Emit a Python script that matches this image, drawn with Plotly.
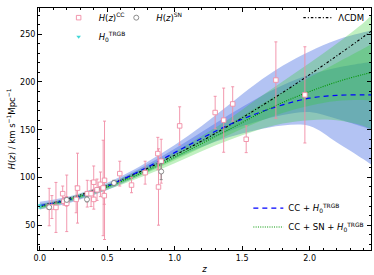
import plotly.graph_objects as go

# ---------------- data ----------------
z_cc = [0.07, 0.09, 0.12, 0.17, 0.179, 0.199, 0.20, 0.27, 0.28, 0.352, 0.3802, 0.4, 0.4004,
        0.4247, 0.4497, 0.47, 0.4783, 0.48, 0.593, 0.68, 0.781, 0.875, 0.88, 0.9, 1.037,
        1.3, 1.363, 1.43, 1.53, 1.75, 1.965]
H_cc = [69, 69, 68.6, 83, 75, 75, 72.9, 77, 88.8, 83, 83, 95, 77,
        87.1, 92.8, 89, 80.9, 97, 104, 92, 105, 125, 90, 117, 154,
        168, 160, 177, 140, 202, 186.5]
err_cc = [19.6, 12, 26.2, 8, 4, 5, 29.6, 14, 36.6, 14, 13.5, 17, 10.2,
          11.2, 12.9, 50, 9, 62, 13, 8, 12, 17, 40, 23, 20,
          17, 33.6, 18, 14, 40, 50.4]

z_sn = [0.07, 0.2, 0.35, 0.55, 0.9]
H_sn = [68.8, 76.5, 77.0, 94.2, 106.2]
err_sn = [1.6, 2.0, 2.6, 2.8, 8.5]

z_trgb = [0.0]
H_trgb = [69.8]
err_trgb = [1.9]

# reconstruction grid
z_grid = [0.0, 0.2, 0.4, 0.6, 0.8, 1.0, 1.2, 1.4, 1.6, 1.8, 2.0, 2.2, 2.4, 2.46]
H_lcdm = [70.0, 77.3, 86.4, 97.2, 109.6, 123.3, 138.1, 154.1, 171.1, 188.9, 207.7, 227.2, 247.4, 253.6]

# CC + H0 (blue)
blue_mean = [70.5, 76.0, 85.0, 97.0, 111.0, 126.0, 141.0, 155.0, 166.5, 176.0, 183.0, 186.0, 186.5, 186.5]
blue_lo2 = [66.5, 72.5, 81.5, 93.0, 106.0, 119.5, 132.0, 142.0, 149.5, 154.5, 154.0, 137.0, 119.0, 113.0]
blue_hi2 = [74.5, 79.5, 88.5, 101.0, 116.5, 134.0, 154.0, 176.0, 198.0, 217.0, 232.0, 244.0, 252.0, 254.0]
blue_lo1 = [68.5, 74.3, 83.3, 95.0, 108.5, 122.8, 136.5, 148.5, 158.0, 165.3, 168.5, 161.5, 152.8, 149.8]
blue_hi1 = [72.5, 77.8, 86.8, 99.0, 113.7, 130.0, 147.5, 165.5, 182.0, 196.5, 207.5, 215.0, 220.0, 221.0]

# CC + SN + H0 (green)
green_mean = [69.0, 76.0, 85.0, 95.5, 107.5, 121.0, 135.5, 150.0, 165.0, 178.5, 190.0, 200.0, 208.0, 210.0]
green_lo1 = [67.7, 74.8, 83.6, 93.8, 105.3, 118.0, 131.5, 144.5, 157.0, 167.5, 175.0, 180.0, 181.0, 180.0]
green_hi1 = [70.3, 77.2, 86.4, 97.2, 109.7, 124.0, 139.5, 155.5, 173.0, 189.5, 205.0, 220.0, 235.0, 240.0]
green_lo2 = [66.4, 73.6, 82.2, 92.1, 103.1, 115.0, 127.5, 139.0, 149.0, 156.5, 160.0, 160.0, 154.0, 150.0]
green_hi2 = [71.6, 78.4, 87.8, 98.9, 111.9, 127.0, 143.5, 161.0, 181.0, 200.5, 220.0, 240.0, 262.0, 270.0]

# ---------------- styles ----------------
BLUE_FILL = "rgba(65,105,225,0.40)"
GREEN_FILL = "rgba(50,205,50,0.30)"
PINK = "rgb(240,140,165)"
GREY = "rgb(128,128,128)"
CYAN = "rgb(64,215,215)"

fig = go.Figure()


def band(lo, hi, color):
    fig.add_trace(go.Scatter(x=z_grid, y=lo, mode="lines", line=dict(width=0, shape="spline"),
                             showlegend=False, hoverinfo="skip"))
    fig.add_trace(go.Scatter(x=z_grid, y=hi, mode="lines", line=dict(width=0, shape="spline"),
                             fill="tonexty", fillcolor=color, showlegend=False, hoverinfo="skip"))


band(blue_lo2, blue_hi2, BLUE_FILL)
band(blue_lo1, blue_hi1, BLUE_FILL)
band(green_lo2, green_hi2, GREEN_FILL)
band(green_lo1, green_hi1, GREEN_FILL)

fig.add_trace(go.Scatter(x=z_grid, y=H_lcdm, mode="lines", name="ΛCDM",
                         line=dict(color="black", width=1.1, dash="2.5px,2px,1px,2px", shape="spline"),
                         legend="legend2"))
fig.add_trace(go.Scatter(x=z_grid, y=blue_mean, mode="lines", name="CC + <i>H</i><sub>0</sub><sup>TRGB</sup>",
                         line=dict(color="blue", width=1.2, dash="5px,4px", shape="spline"),
                         legend="legend3"))
fig.add_trace(go.Scatter(x=z_grid, y=green_mean, mode="lines",
                         name="CC + SN + <i>H</i><sub>0</sub><sup>TRGB</sup>",
                         line=dict(color="rgb(0,150,0)", width=1.1, dash="1px,1.3px", shape="spline"),
                         legend="legend3"))

fig.add_trace(go.Scatter(x=z_cc, y=H_cc, mode="markers", name="<i>H</i>(<i>z</i>)<sup>CC</sup>",
                         marker=dict(symbol="square", size=4.5, color="white",
                                     line=dict(color=PINK, width=0.9)),
                         error_y=dict(type="data", array=err_cc, color=PINK, thickness=0.9, width=1.5),
                         legend="legend"))
fig.add_trace(go.Scatter(x=z_sn, y=H_sn, mode="markers", name="<i>H</i>(<i>z</i>)<sup>SN</sup>",
                         marker=dict(symbol="circle", size=5, color="white",
                                     line=dict(color=GREY, width=0.9)),
                         error_y=dict(type="data", array=err_sn, color=GREY, thickness=0.9, width=1.5),
                         legend="legend4"))
fig.add_trace(go.Scatter(x=z_trgb, y=H_trgb, mode="markers", name="<i>H</i><sub>0</sub><sup>TRGB</sup>",
                         marker=dict(symbol="triangle-down", size=4, color=CYAN),
                         error_y=dict(type="data", array=err_trgb, color=CYAN, thickness=0.9, width=1.5),
                         legend="legend", cliponaxis=False))

leg_common = dict(bgcolor="rgba(0,0,0,0)", font=dict(size=8.5, family="DejaVu Sans"),
                  itemwidth=30, tracegroupgap=0, traceorder="normal")

fig.update_layout(
    width=374, height=275,
    margin=dict(l=38, r=3, t=4, b=25),
    plot_bgcolor="white", paper_bgcolor="white",
    font=dict(family="DejaVu Sans", size=8, color="black"),
    legend=dict(x=0.062, y=1.02, xanchor="left", yanchor="top", **leg_common),
    legend4=dict(x=0.235, y=1.02, xanchor="left", yanchor="top", **leg_common),
    legend2=dict(x=0.995, y=1.02, xanchor="right", yanchor="top", **leg_common),
    legend3=dict(x=0.995, y=0.035, xanchor="right", yanchor="bottom", **leg_common),
    xaxis=dict(range=[-0.013, 2.455], tickmode="array", tickvals=[0, 0.5, 1.0, 1.5, 2.0],
               ticktext=["0.0", "0.5", "1.0", "1.5", "2.0"],
               ticks="inside", ticklen=4, tickwidth=0.8, tickcolor="black",
               minor=dict(dtick=0.1, tick0=0, ticks="inside", ticklen=2, tickwidth=0.6, tickcolor="black"),
               showline=True, linecolor="black", linewidth=1, mirror="ticks",
               showgrid=False, zeroline=False, automargin=False,
               title=dict(text="<i>z</i>", standoff=4, font=dict(size=8.5))),
    yaxis=dict(range=[24, 277.5], tickmode="array", tickvals=[50, 100, 150, 200, 250],
               ticks="inside", ticklen=4, tickwidth=0.8, tickcolor="black",
               minor=dict(dtick=10, tick0=0, ticks="inside", ticklen=2, tickwidth=0.6, tickcolor="black"),
               showline=True, linecolor="black", linewidth=1, mirror="ticks",
               showgrid=False, zeroline=False, automargin=False,
               title=dict(text="<i>H</i>(<i>z</i>) / km s<sup>−1</sup>Mpc<sup>−1</sup>", standoff=3,
                          font=dict(size=8.5))),
)

fig.write_html("out.html", config={"displayModeBar": False},
               post_script="document.body.style.margin='0';")
